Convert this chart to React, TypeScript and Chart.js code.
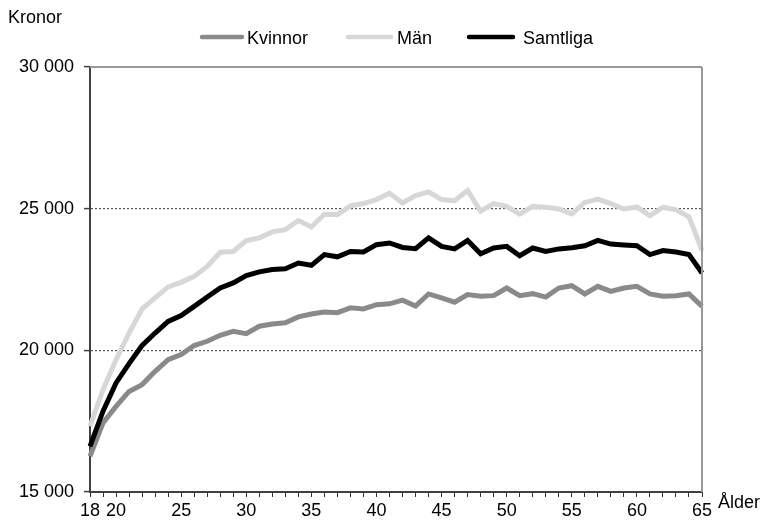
import React, { useEffect, useRef } from "react";
import { Chart, registerables } from "chart.js";

Chart.register(...registerables);

const ages = [
  18, 19, 20, 21, 22, 23, 24, 25, 26, 27, 28, 29, 30, 31, 32, 33, 34, 35, 36, 37, 38, 39, 40, 41,
  42, 43, 44, 45, 46, 47, 48, 49, 50, 51, 52, 53, 54, 55, 56, 57, 58, 59, 60, 61, 62, 63, 64, 65,
];
const xTickLabels = [18, 20, 25, 30, 35, 40, 45, 50, 55, 60, 65];
const yTicks = [15000, 20000, 25000, 30000];

const kvinnor = [
  16260, 17440, 18020, 18550, 18790, 19260, 19670, 19850, 20170, 20320, 20530, 20670, 20590, 20850,
  20930, 20970, 21180, 21280, 21350, 21330, 21500, 21460, 21610, 21640, 21770, 21560, 21990, 21850,
  21700, 21970, 21910, 21930, 22200, 21930, 22000, 21880, 22200, 22280, 21990, 22260, 22080, 22200,
  22260, 21990, 21910, 21930, 21990, 21550,
];
const man = [
  17320, 18610, 19670, 20610, 21460, 21850, 22240, 22400, 22610, 22960, 23460, 23490, 23870, 23970,
  24180, 24260, 24580, 24350, 24800, 24790, 25100, 25180, 25320, 25550, 25200, 25460, 25590, 25320,
  25280, 25640, 24910, 25180, 25080, 24810, 25080, 25050, 24990, 24820, 25220, 25340, 25180, 24990,
  25060, 24750, 25050, 24960, 24710, 23530,
];
const samtliga = [
  16610, 17850, 18850, 19530, 20170, 20610, 21020, 21230, 21550, 21880, 22200, 22380, 22640, 22770,
  22850, 22880, 23080, 23000, 23380, 23300, 23490, 23470, 23730, 23790, 23630, 23590, 23970, 23670,
  23580, 23880, 23410, 23610, 23670, 23340, 23610, 23490, 23580, 23620, 23690, 23880, 23750, 23720,
  23690, 23380, 23520, 23470, 23380, 22730,
];

const seriesNames = ["Kvinnor", "Män", "Samtliga"];
const seriesColors = ["#8a8a8a", "#d7d7d7", "#000000"];

const FONT = "'Liberation Sans', Arial, sans-serif";

const fmt = (v: number) => {
  const s = String(Math.round(v));
  return s.replace(/\B(?=(\d{3})+(?!\d))/g, " ");
};

const extrasPlugin = {
  id: "extras",
  afterDatasetsDraw(chart: any) {
    const { ctx, chartArea } = chart;
    ctx.save();
    ctx.strokeStyle = "#999999";
    ctx.lineWidth = 2;
    ctx.beginPath();
    ctx.moveTo(chartArea.left, chartArea.top);
    ctx.lineTo(chartArea.right, chartArea.top);
    ctx.moveTo(chartArea.right, chartArea.top);
    ctx.lineTo(chartArea.right, chartArea.bottom);
    ctx.stroke();
    ctx.restore();
  },
  afterDraw(chart: any) {
    const { ctx } = chart;
    ctx.save();
    ctx.fillStyle = "#000";
    ctx.font = `18px ${FONT}`;
    ctx.textBaseline = "middle";
    ctx.textAlign = "left";
    ctx.fillText("Kronor", 8, 18);
    ctx.fillText("Ålder", 718, 503);
    const legendPos = [
      [200, 244, 247],
      [346, 393, 397],
      [467, 515, 523],
    ];
    seriesNames.forEach((name, i) => {
      const [x1, x2, tx] = legendPos[i];
      ctx.strokeStyle = seriesColors[i];
      ctx.lineWidth = 4.5;
      ctx.lineCap = "round";
      ctx.beginPath();
      ctx.moveTo(x1 + 2, 37);
      ctx.lineTo(x2 - 2, 37);
      ctx.stroke();
      ctx.fillStyle = "#000";
      ctx.fillText(name, tx, 39);
    });
    ctx.restore();
  },
};

export default function App() {
  const ref = useRef<HTMLCanvasElement | null>(null);
  useEffect(() => {
    if (!ref.current) return;
    const chart = new Chart(ref.current, {
      type: "line",
      data: {
        labels: ages,
        datasets: [
          {
            label: seriesNames[0],
            data: kvinnor,
            borderColor: seriesColors[0],
            backgroundColor: seriesColors[0],
            borderWidth: 5,
            pointRadius: 0,
            tension: 0,
            order: 2,
          },
          {
            label: seriesNames[1],
            data: man,
            borderColor: seriesColors[1],
            backgroundColor: seriesColors[1],
            borderWidth: 5,
            pointRadius: 0,
            tension: 0,
            order: 1,
          },
          {
            label: seriesNames[2],
            data: samtliga,
            borderColor: seriesColors[2],
            backgroundColor: seriesColors[2],
            borderWidth: 5,
            pointRadius: 0,
            tension: 0,
            order: 0,
          },
        ],
      },
      options: {
        responsive: false,
        animation: false,
        devicePixelRatio: 1,
        layout: { padding: { left: 0, right: 69, top: 67, bottom: 0 } },
        plugins: {
          legend: { display: false },
          title: { display: false },
          tooltip: { enabled: false },
        },
        scales: {
          x: {
            type: "category",
            offset: false,
            afterFit: (s: any) => {
              s.height = 31;
            },
            grid: {
              display: true,
              drawOnChartArea: false,
              drawTicks: true,
              tickLength: 5,
              tickColor: "#333333",
              tickWidth: 1,
            },
            border: { display: true, color: "#404040", width: 2 },
            ticks: {
              autoSkip: false,
              maxRotation: 0,
              minRotation: 0,
              padding: 3,
              color: "#000",
              font: { family: FONT, size: 18 },
              callback: (_v: any, i: number) =>
                xTickLabels.includes(ages[i]) ? String(ages[i]) : "",
            },
          },
          y: {
            min: yTicks[0],
            max: yTicks[yTicks.length - 1],
            afterFit: (s: any) => {
              s.width = 90;
            },
            afterBuildTicks: (s: any) => {
              s.ticks = yTicks.map((v) => ({ value: v }));
            },
            grid: {
              color: (c: any) =>
                c.tick && (c.tick.value === 20000 || c.tick.value === 25000)
                  ? "#555555"
                  : "rgba(0,0,0,0)",
              lineWidth: 1.2,
              drawTicks: true,
              tickLength: 6,
              tickColor: "#404040",
              tickWidth: 1.5,
              tickBorderDash: [],
            },
            border: { display: true, color: "#404040", width: 2, dash: [2, 2] },
            ticks: {
              padding: 10,
              color: "#000",
              font: { family: FONT, size: 18 },
              callback: (v: any) => fmt(Number(v)),
            },
          },
        },
      },
      plugins: [extrasPlugin],
    } as any);
    return () => chart.destroy();
  }, []);
  return (
    <div style={{ position: "absolute", left: 0, top: 0, width: 771, height: 523, background: "#fff" }}>
      <canvas ref={ref} width={771} height={523} style={{ width: 771, height: 523, display: "block" }} />
    </div>
  );
}
